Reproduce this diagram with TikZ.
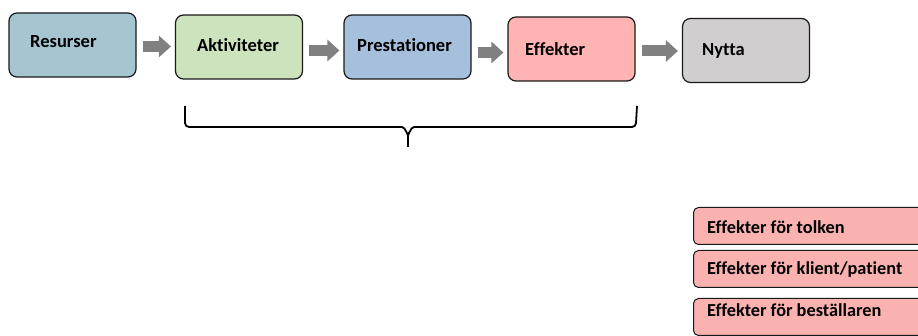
\documentclass[tikz,border=0pt]{standalone}
\usepackage{fontspec}
\setmainfont{Carlito}[Ligatures={NoCommon}]
\usetikzlibrary{arrows.meta}
\definecolor{cRes}{HTML}{A5C5D0}
\definecolor{cAkt}{HTML}{CDE3BD}
\definecolor{cPre}{HTML}{A6BFDC}
\definecolor{cEff}{HTML}{FFB3B3}
\definecolor{cNyt}{HTML}{D0CECF}
\definecolor{cBot}{HTML}{F9B2AF}
\definecolor{cArr}{HTML}{808080}
\tikzset{
  topbox/.style={draw=black!90, line width=1.2pt, rounded corners=8pt, minimum width=127pt, minimum height=64pt, inner sep=0pt},
  botbox/.style={draw=black!90, line width=1pt, rounded corners=5pt, minimum width=240pt, minimum height=37pt, inner sep=0pt, anchor=north west, fill=cBot},
  lbl/.style={font=\bfseries\fontsize{18.5}{20}\selectfont, anchor=base west, inner sep=0pt},
  blbl/.style={font=\bfseries\fontsize{18.3}{20}\selectfont, anchor=base west, inner sep=0pt},
  blockarrow/.style={draw=cArr, line width=11pt, -{Triangle[length=12pt,width=21pt]}, shorten <=6pt, shorten >=4pt},
  bracepath/.style={draw=black, line width=1.8pt}
}
\begin{document}
\begin{tikzpicture}[x=1pt,y=-1pt]
\clip (0,0) rectangle (918,336);
\fill[white] (0,0) rectangle (918,336);
% top row boxes
\node[topbox, fill=cRes] (res) at (72.5,45) {};
\node[topbox, fill=cAkt] (akt) at (239,47) {};
\node[topbox, fill=cPre] (pre) at (407.5,47) {};
\node[topbox, fill=cEff] (eff) at (571.5,49) {};
\node[topbox, fill=cNyt] (nyt) at (746,50.5) {};
% labels
\node[lbl] (tres) at (30,48) {Resurser};
\node[lbl] (takt) at (197,52) {Aktiviteter};
\node[lbl] (tpre) at (357,52) {Prestationer};
\node[lbl] (teff) at (525,56) {Effekter};
\node[lbl] (tnyt) at (702,55.5) {Nytta};
% arrows
\draw[blockarrow] (res.east |- 0,46.5) -- (akt.west |- 0,46.5);
\draw[blockarrow] (akt.east |- 0,50.5) -- (pre.west |- 0,50.5);
\draw[blockarrow] (pre.east |- 0,52.5) -- (eff.west |- 0,52.5);
\draw[blockarrow] (eff.east |- 0,51) -- (nyt.west |- 0,51);
% brace
\coordinate (bl) at (185,106);
\coordinate (br) at (637,106);
\coordinate (bt) at (408,147);
\draw[bracepath] (bl) -- (185,123) to[out=-90,in=180] (189,127) -- (402,127)
  to[out=0,in=-90] (408,134) -- (bt);
\draw[bracepath] (br) -- (636,123) to[out=-90,in=0] (632,127) -- (414,127)
  to[out=180,in=-90] (408,134);
% bottom boxes
\node[botbox] (b1) at (693,207) {};
\node[botbox] (b2) at (693,250) {};
\node[botbox] (b3) at (693,298) {};
\node[blbl] (t1) at (707,234) {Effekter för tolken};
\node[blbl] (t2) at (707,275) {Effekter för klient/patient};
\node[blbl] (t3) at (707,317) {Effekter för beställaren};
\end{tikzpicture}
\end{document}
